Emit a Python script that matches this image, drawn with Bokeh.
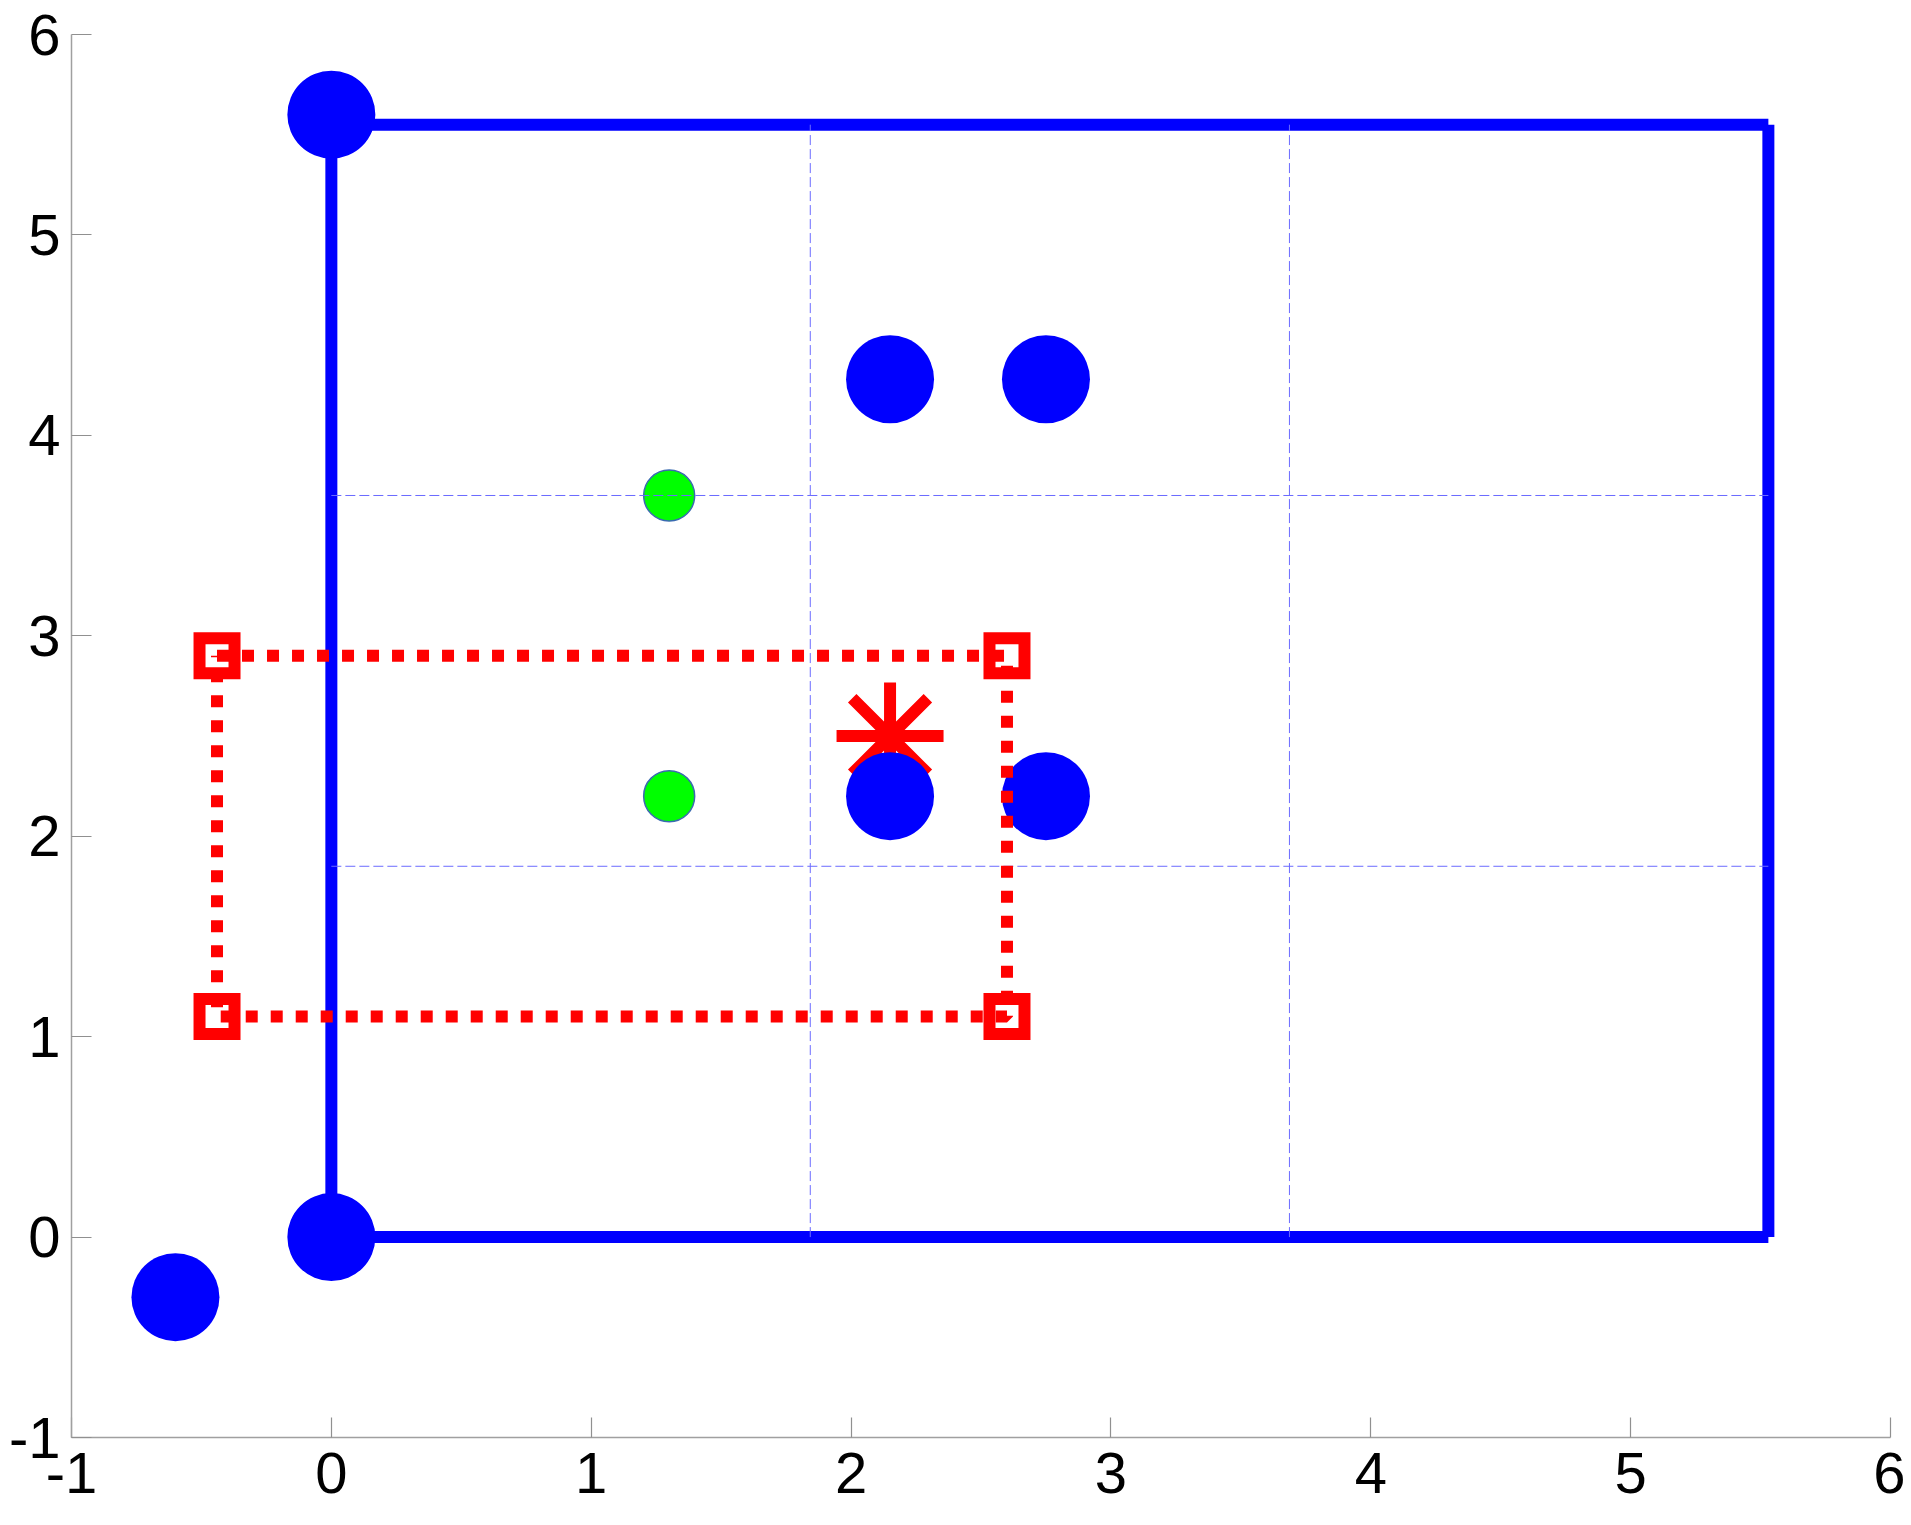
from bokeh.plotting import figure
from bokeh.models import FixedTicker, Range1d
from bokeh.embed import file_html
from bokeh.resources import INLINE

# ---- data ----
blue_x = [0.0, 0.0, -0.6, 2.15, 2.75, 2.15, 2.75]
blue_y = [5.6, 0.0, -0.3, 4.28, 4.28, 2.2, 2.2]

green_x = [1.3, 1.3]
green_y = [3.7, 2.2]

# blue boundary segments (x0, y0) -> (x1, y1)
box_x0 = [0.0, 0.0, 5.53, 5.53]
box_y0 = [0.0, 5.55, 5.55, 0.0]
box_x1 = [0.0, 5.53, 5.53, 0.0]
box_y1 = [5.55, 5.55, 0.0, 0.0]

# dashed inner grid
grid_x = [1.843, 3.687]
grid_y = [1.85, 3.70]
grid_top = 5.55
grid_right = 5.53

# red dotted rectangle corners
red_x = [-0.44, 2.6, 2.6, -0.44]
red_y = [2.9, 2.9, 1.1, 1.1]

star_x = [2.15]
star_y = [2.5]

ticks = [-1, 0, 1, 2, 3, 4, 5, 6]

# ---- figure ----
p = figure(width=1905, height=1518, output_backend="svg", toolbar_location=None,
           x_range=Range1d(-1, 6), y_range=Range1d(-1, 6),
           min_border_left=71, min_border_right=15, min_border_top=34, min_border_bottom=81)
p.outline_line_color = None
p.grid.visible = False
p.background_fill_color = "white"

for ax in (p.xaxis[0], p.yaxis[0]):
    ax.ticker = FixedTicker(ticks=ticks)
    ax.major_label_overrides = {t: str(t) for t in ticks}
    ax.axis_line_color = "#a0a0a0"
    ax.axis_line_width = 1.5
    ax.major_tick_line_color = "#909090"
    ax.major_tick_line_width = 1.2
    ax.major_tick_in = 20
    ax.major_tick_out = 0
    ax.minor_tick_line_color = None
    ax.major_label_text_font = "Liberation Sans"
    ax.major_label_text_font_size = "58px"
    ax.major_label_text_color = "black"
p.xaxis[0].major_label_standoff = 15
p.yaxis[0].major_label_standoff = 11

# blue boundary
p.segment(x0=box_x0, y0=box_y0, x1=box_x1, y1=box_y1,
          line_color="#0000ff", line_width=12, line_cap="butt")

# red asterisk (below blue circles)
p.scatter(star_x, star_y, marker="asterisk", size=107,
          line_color="#ff0000", line_width=12, line_cap="butt")

# blue circles
p.scatter(blue_x, blue_y, marker="circle", size=88,
          fill_color="#0000ff", line_color=None)

# green circles
p.scatter(green_x, green_y, marker="circle", size=51,
          fill_color="#00ff00", line_color="#3a6ab0", line_width=1.5)

# dashed inner grid
p.segment(x0=grid_x, y0=[0.0] * len(grid_x), x1=grid_x, y1=[grid_top] * len(grid_x),
          line_color="#6b6bff", line_width=1, line_dash="10 4")
p.segment(x0=[0.0] * len(grid_y), y0=grid_y, x1=[grid_right] * len(grid_y), y1=grid_y,
          line_color="#6b6bff", line_width=1, line_dash="10 4")

# red dotted rectangle
p.line(red_x + [red_x[0]], red_y + [red_y[0]],
       line_color="#ff0000", line_width=12, line_dash="12 13", line_cap="butt")

# red hollow squares
p.scatter(red_x, red_y, marker="square", size=35,
          fill_alpha=0, line_color="#ff0000", line_width=12, line_join="miter")

open("out.html", "w").write(file_html(p, INLINE))
